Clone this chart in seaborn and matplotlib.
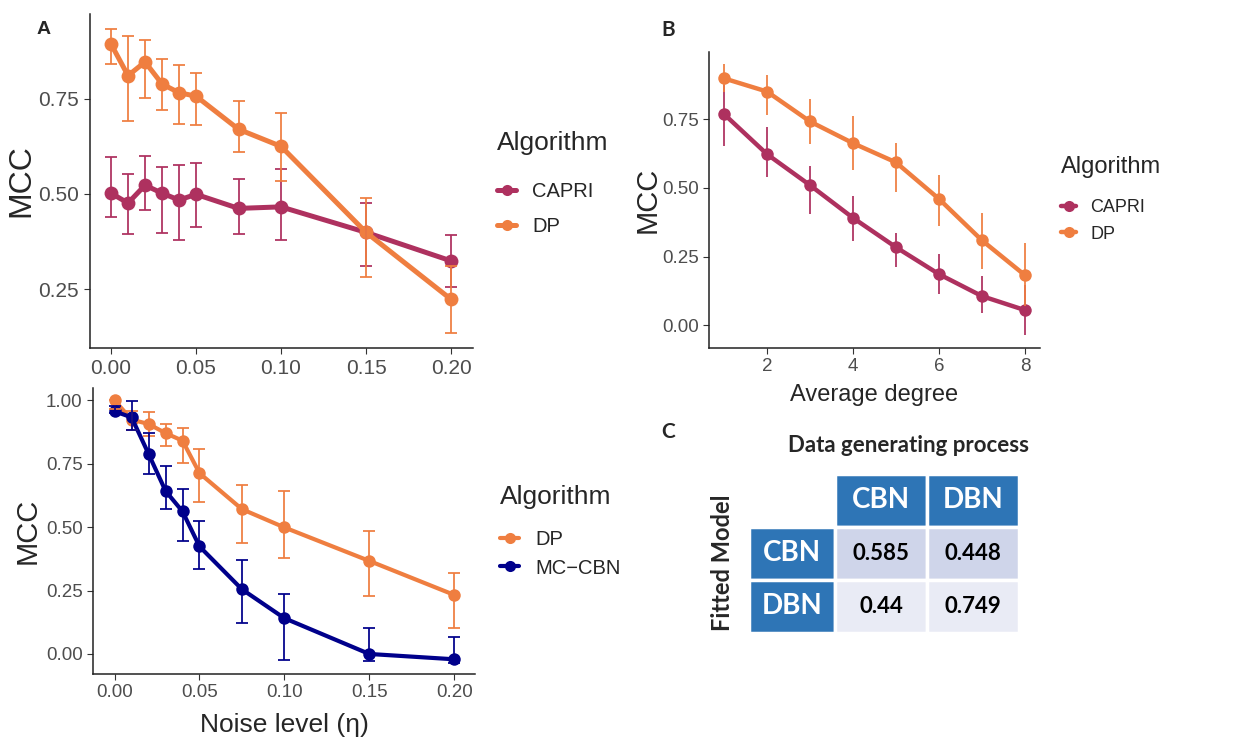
import numpy as np
import pandas as pd
import matplotlib
matplotlib.use("Agg")
import matplotlib.pyplot as plt
import seaborn as sns
from matplotlib.lines import Line2D

# ---- data ----
noise = [0.0, 0.01, 0.02, 0.03, 0.04, 0.05, 0.075, 0.1, 0.15, 0.2]

# panel A (top): CAPRI vs DP
capri_a = [0.502, 0.476, 0.523, 0.502, 0.484, 0.499, 0.462, 0.466, 0.399, 0.324]
capri_a_lo = [0.440, 0.395, 0.457, 0.398, 0.380, 0.414, 0.395, 0.380, 0.311, 0.256]
capri_a_hi = [0.597, 0.552, 0.600, 0.570, 0.577, 0.582, 0.538, 0.566, 0.476, 0.392]
dp_a = [0.894, 0.811, 0.847, 0.789, 0.766, 0.757, 0.670, 0.625, 0.399, 0.223]
dp_a_lo = [0.842, 0.693, 0.752, 0.721, 0.684, 0.680, 0.611, 0.534, 0.282, 0.135]
dp_a_hi = [0.933, 0.914, 0.905, 0.855, 0.838, 0.818, 0.744, 0.714, 0.490, 0.310]

# panel A (bottom): DP vs MC-CBN
dp_b = [1.000, 0.924, 0.907, 0.871, 0.841, 0.713, 0.571, 0.499, 0.367, 0.233]
dp_b_lo = [0.965, 0.884, 0.861, 0.821, 0.753, 0.599, 0.438, 0.378, 0.230, 0.104]
dp_b_hi = [1.000, 0.957, 0.953, 0.907, 0.892, 0.809, 0.666, 0.642, 0.483, 0.318]
mccbn = [0.957, 0.933, 0.789, 0.643, 0.562, 0.424, 0.255, 0.141, 0.000, -0.021]
mccbn_lo = [0.951, 0.884, 0.709, 0.572, 0.446, 0.336, 0.124, -0.024, -0.028, -0.035]
mccbn_hi = [0.976, 0.999, 0.871, 0.742, 0.650, 0.524, 0.371, 0.236, 0.101, 0.067]

# panel B: average degree
degree = [1, 2, 3, 4, 5, 6, 7, 8]
capri_deg = [0.769, 0.623, 0.510, 0.391, 0.284, 0.186, 0.106, 0.055]
capri_deg_lo = [0.653, 0.540, 0.404, 0.307, 0.212, 0.115, 0.045, -0.034]
capri_deg_hi = [0.874, 0.721, 0.579, 0.471, 0.337, 0.258, 0.181, 0.146]
dp_deg = [0.899, 0.851, 0.742, 0.663, 0.593, 0.460, 0.309, 0.182]
dp_deg_lo = [0.850, 0.765, 0.659, 0.564, 0.487, 0.360, 0.206, 0.070]
dp_deg_hi = [0.950, 0.910, 0.825, 0.762, 0.664, 0.546, 0.407, 0.300]

# panel C table
col_labels = ["CBN", "DBN"]
row_labels = ["CBN", "DBN"]
mcc_table = [["0.585", "0.448"], ["0.44", "0.749"]]

pal = {"CAPRI": "#AE315F", "DP": "#EF7E40", "MC\u2212CBN": "#00008B"}

sns.set_style("ticks")
plt.rcParams['font.family'] = ['Liberation Sans', 'DejaVu Sans']
TABFONT = ['Lato', 'DejaVu Sans']
W, H = 1239, 740


def make_df(x, series):
    rows = []
    for name, (y, lo, hi) in series.items():
        for xi, yi, l, h in zip(x, y, lo, hi):
            rows.append({"x": xi, "MCC": yi, "lo": l, "hi": h, "Algorithm": name})
    return pd.DataFrame(rows)


def draw(ax, df, order, lw, ms, caps):
    sns.lineplot(data=df, x="x", y="MCC", hue="Algorithm", hue_order=order,
                 palette=pal, marker="o", markersize=ms, markeredgewidth=0,
                 linewidth=lw, ax=ax, legend=False, zorder=2)
    for name in order:
        d = df[df["Algorithm"] == name]
        ax.errorbar(d["x"], d["MCC"], yerr=[d["MCC"] - d["lo"], d["hi"] - d["MCC"]],
                    fmt="none", ecolor=pal[name], elinewidth=1.4, alpha=0.9,
                    capsize=caps, capthick=1.4, zorder=3)
    sns.despine(ax=ax)
    ax.set_xlabel("")
    for s in ["left", "bottom"]:
        ax.spines[s].set_linewidth(1.1)
        ax.spines[s].set_color("#222222")


def add_legend(fig, order, x_px, title_y, mid_y, tsize, lsize, lw, spacing, hlen, tpad):
    fig.text(x_px / W, 1 - title_y / H, "Algorithm", ha="left", va="center", fontsize=tsize)
    handles = [Line2D([0], [0], color=pal[n], lw=lw, marker="o", markersize=8,
                      markeredgewidth=0) for n in order]
    fig.legend(handles, order, loc="center left", bbox_to_anchor=(x_px / W, 1 - mid_y / H),
               frameon=False, fontsize=lsize, handlelength=hlen, handletextpad=tpad,
               labelspacing=spacing, borderpad=0, borderaxespad=0)


fig = plt.figure(figsize=(12.39, 7.40), dpi=100)

# ---- panel A top ----
ax1 = fig.add_axes([0.0726, 0.5297, 0.309, 0.4514])
df1 = make_df(noise, {"CAPRI": (capri_a, capri_a_lo, capri_a_hi),
                      "DP": (dp_a, dp_a_lo, dp_a_hi)})
draw(ax1, df1, ["CAPRI", "DP"], 3.6, 10, 4)
ax1.set_xlim(-0.0124, 0.2128)
ax1.set_ylim(0.095, 0.973)
ax1.set_xticks([0, 0.05, 0.1, 0.15, 0.2])
ax1.set_xticklabels(["0.00", "0.05", "0.10", "0.15", "0.20"])
ax1.set_yticks([0.25, 0.5, 0.75])
ax1.set_yticklabels(["0.25", "0.50", "0.75"])
ax1.set_ylabel("MCC", fontsize=23, labelpad=1)
ax1.tick_params(labelsize=15, colors="#333333", labelcolor="#4D4D4D", length=4, pad=4)
add_legend(fig, ["CAPRI", "DP"], 497, 143, 209, 19, 14.5, 3.6, 0.75, 0.95, 0.8)

# ---- panel A bottom ----
ax2 = fig.add_axes([0.0751, 0.0892, 0.3083, 0.3865])
df2 = make_df(noise, {"DP": (dp_b, dp_b_lo, dp_b_hi),
                      "MC\u2212CBN": (mccbn, mccbn_lo, mccbn_hi)})
draw(ax2, df2, ["DP", "MC\u2212CBN"], 3.0, 9, 4)
ax2.set_xlim(-0.0127, 0.2123)
ax2.set_ylim(-0.079, 1.049)
ax2.set_xticks([0, 0.05, 0.1, 0.15, 0.2])
ax2.set_xticklabels(["0.00", "0.05", "0.10", "0.15", "0.20"])
ax2.set_yticks([0, 0.25, 0.5, 0.75, 1.0])
ax2.set_yticklabels(["0.00", "0.25", "0.50", "0.75", "1.00"])
ax2.set_ylabel("MCC", fontsize=21, labelpad=3)
ax2.set_xlabel("Noise level (\u03b7)", fontsize=19, labelpad=8)
ax2.tick_params(labelsize=13.5, colors="#333333", labelcolor="#4D4D4D", length=4)
add_legend(fig, ["DP", "MC\u2212CBN"], 500, 497, 554, 19, 14.5, 3.0, 0.45, 0.95, 0.8)

# ---- panel B ----
ax3 = fig.add_axes([0.5722, 0.5297, 0.2672, 0.40])
df3 = make_df(degree, {"CAPRI": (capri_deg, capri_deg_lo, capri_deg_hi),
                       "DP": (dp_deg, dp_deg_lo, dp_deg_hi)})
draw(ax3, df3, ["CAPRI", "DP"], 3.2, 9, 0)
ax3.set_xlim(0.65, 8.35)
ax3.set_ylim(-0.083, 0.995)
ax3.set_xticks([2, 4, 6, 8])
ax3.set_yticks([0, 0.25, 0.5, 0.75])
ax3.set_yticklabels(["0.00", "0.25", "0.50", "0.75"])
ax3.set_ylabel("MCC", fontsize=21, labelpad=0)
ax3.set_xlabel("Average degree", fontsize=17, labelpad=6)
ax3.tick_params(labelsize=13.5, colors="#333333", labelcolor="#4D4D4D", length=4)
add_legend(fig, ["CAPRI", "DP"], 1061, 167, 221, 17, 13, 3.2, 0.5, 0.85, 0.78)

# ---- panel C table ----
axc = fig.add_axes([0.6045, 0.1446, 0.2179, 0.2149])
axc.axis("off")
cells = [[""] + col_labels] + [[r] + v for r, v in zip(row_labels, mcc_table)]
blue = "#2E75B6"
colours = [["white", blue, blue],
           [blue, "#CFD5EA", "#CFD5EA"],
           [blue, "#E9EBF5", "#E9EBF5"]]
tbl = axc.table(cellText=cells, cellColours=colours, cellLoc="center",
                colWidths=[86, 91, 92], bbox=[0, 0, 1, 1])
tbl.auto_set_font_size(False)
for (r, c), cell in tbl.get_celld().items():
    cell.set_edgecolor("white")
    cell.set_linewidth(2.5)
    txt = cell.get_text()
    txt.set_fontfamily(TABFONT)
    txt.set_fontweight("bold")
    if r == 0 or c == 0:
        txt.set_color("white")
        txt.set_fontsize(20)
    else:
        txt.set_color("black")
        txt.set_fontsize(16)
    if r == 0 and c == 0:
        cell.set_visible(False)

fig.text(909 / W, 1 - 446 / H, "Data generating process", ha="center", va="center",
         fontsize=16, fontweight="bold", family=TABFONT)
fig.text(722 / W, 1 - 563 / H, "Fitted Model", ha="center", va="center",
         rotation=90, fontsize=17, fontweight="bold", family=TABFONT)

# panel letters
fig.text(44 / W, 1 - 30 / H, "A", ha="center", va="center", fontsize=14, fontweight="bold")
fig.text(668 / W, 1 - 30 / H, "B", ha="center", va="center", fontsize=15,
         fontweight="bold", family=TABFONT)
fig.text(668 / W, 1 - 432 / H, "C", ha="center", va="center", fontsize=15,
         fontweight="bold", family=TABFONT)

fig.savefig("out.png", dpi=100)
